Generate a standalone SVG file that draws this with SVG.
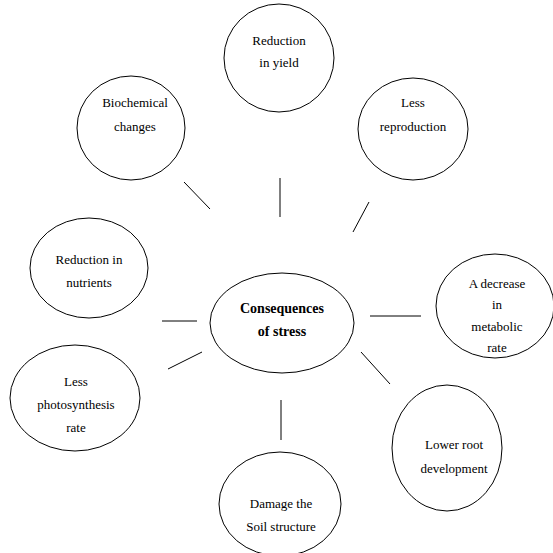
<svg xmlns="http://www.w3.org/2000/svg" width="553" height="553" viewBox="0 0 553 553">
  <style>
    .node ellipse { fill: #ffffff; stroke: #000000; stroke-width: 1; }
    .node text { fill: #000000; text-anchor: middle; }
    #connectors line { stroke: #000000; stroke-width: 1; }
  </style>
  <rect width="553" height="553" fill="#ffffff"/>
  <g id="connectors">
    <line x1="280" y1="178" x2="280" y2="217"/>
    <line x1="369" y1="202" x2="353" y2="232"/>
    <line x1="184" y1="182" x2="210" y2="209"/>
    <line x1="162" y1="321" x2="197" y2="321"/>
    <line x1="168" y1="369" x2="202" y2="352"/>
    <line x1="370" y1="316" x2="421" y2="316"/>
    <line x1="361" y1="352" x2="390" y2="384"/>
    <line x1="281" y1="400" x2="281" y2="440"/>
  </g>
  <g font-family="Liberation Serif, Times New Roman, serif" font-size="13">
    <g id="center" class="node">
      <ellipse cx="282" cy="323" rx="72" ry="50"/>
      <text x="282" y="313" font-weight="bold" font-size="14">Consequences</text>
      <text x="282" y="336" font-weight="bold" font-size="14">of stress</text>
    </g>
    <g id="yield" class="node">
      <ellipse cx="279" cy="58" rx="55" ry="54"/>
      <text x="279" y="45">Reduction</text>
      <text x="279" y="67">in yield</text>
    </g>
    <g id="reproduction" class="node">
      <ellipse cx="413" cy="129" rx="55" ry="51"/>
      <text x="413" y="107">Less</text>
      <text x="413" y="131">reproduction</text>
    </g>
    <g id="biochemical" class="node">
      <ellipse cx="131" cy="128" rx="54" ry="52"/>
      <text x="135" y="107">Biochemical</text>
      <text x="135" y="131">changes</text>
    </g>
    <g id="nutrients" class="node">
      <ellipse cx="89" cy="268" rx="59" ry="50"/>
      <text x="89" y="264">Reduction in</text>
      <text x="89" y="287">nutrients</text>
    </g>
    <g id="metabolic" class="node">
      <ellipse cx="495" cy="306" rx="59" ry="52"/>
      <text x="497" y="288">A decrease</text>
      <text x="497" y="309">in</text>
      <text x="497" y="331">metabolic</text>
      <text x="497" y="352">rate</text>
    </g>
    <g id="photosynthesis" class="node">
      <ellipse cx="75" cy="398" rx="65" ry="53"/>
      <text x="76" y="386">Less</text>
      <text x="76" y="409">photosynthesis</text>
      <text x="76" y="432">rate</text>
    </g>
    <g id="root" class="node">
      <ellipse cx="447" cy="448" rx="55" ry="63"/>
      <text x="454" y="449">Lower root</text>
      <text x="454" y="473">development</text>
    </g>
    <g id="soil" class="node">
      <ellipse cx="280" cy="504" rx="61" ry="52"/>
      <text x="281" y="508">Damage the</text>
      <text x="281" y="531">Soil structure</text>
    </g>
  </g>
</svg>
